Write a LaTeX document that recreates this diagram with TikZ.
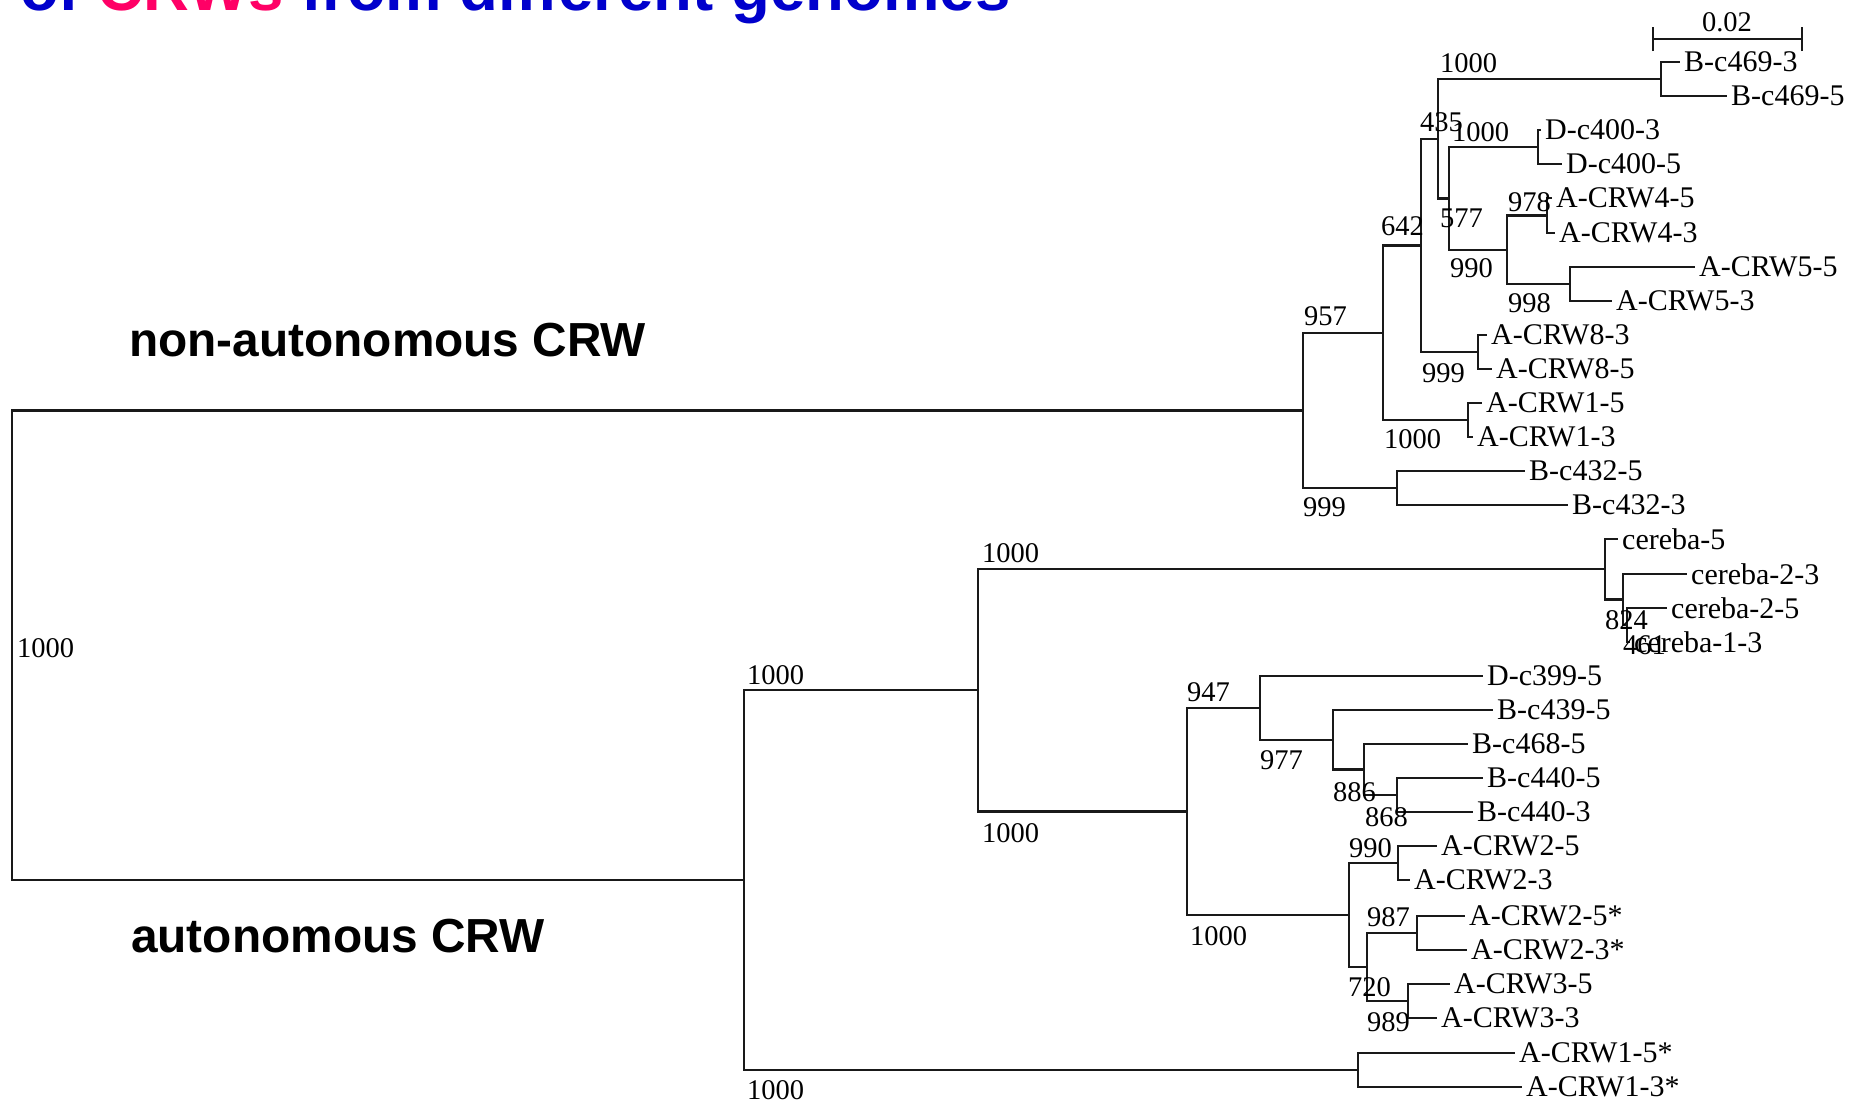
\documentclass[tikz,border=0pt]{standalone}
\usepackage{fontspec}
\setmainfont{Liberation Serif}
\newfontfamily\headfont{Liberation Sans}
\definecolor{titleblue}{RGB}{0,0,204}
\definecolor{titlepink}{RGB}{255,0,102}
\begin{document}
\begin{tikzpicture}[x=1pt,y=-1pt,
  br/.style={line width=2.2pt, draw=black!90, line join=miter},
  leaf/.style={font=\fontsize{30}{34}\selectfont, inner xsep=4pt, inner ysep=0pt, anchor=west},
  lbl/.style={font=\fontsize{28.5}{34}\selectfont, inner sep=0pt, anchor=west},
  head/.style={font=\headfont\bfseries\fontsize{47.8}{56}\selectfont, inner sep=0pt, anchor=west},
]
\useasboundingbox (0,0) rectangle (1867,1104);
\fill[white] (0,0) rectangle (1867,1104);
\clip (0,0) rectangle (1867,1104);

% title (cut off at top)
\node[font=\headfont\bfseries\fontsize{63.5}{70}\selectfont, inner sep=0pt, anchor=base west] (title) at (20,10)
  {\textcolor{titleblue}{of} \textcolor{titlepink}{CRWs} \textcolor{titleblue}{from different genomes}};

% headings
\node[head] (hnon) at (129,340) {non-autonomous CRW};
\node[head] (haut) at (131,936) {autonomous CRW};

% scale bar
\coordinate (sbL) at (1653,39);
\coordinate (sbR) at (1802,39);
\draw[br] (sbL) -- (sbR);
\draw[br] ([yshift=-12pt]sbL) -- ([yshift=12pt]sbL);
\draw[br] ([yshift=-12pt]sbR) -- ([yshift=12pt]sbR);
\node[lbl, anchor=center] (sblab) at (1727,22) {0.02};

% ---------- internal node coordinates ----------
\coordinate (root) at (12,645.25);
\coordinate (n957) at (1303,410.5);
\coordinate (n642) at (1383,333);
\coordinate (n1421) at (1421,245.5);
\coordinate (nX) at (1438,139);
\coordinate (n469) at (1661,79);
\coordinate (nY) at (1449,198.5);
\coordinate (n400) at (1538,147);
\coordinate (n990t) at (1507,250);
\coordinate (nCRW4) at (1547,215.5);
\coordinate (nCRW5) at (1570,284);
\coordinate (nCRW8) at (1478,352);
\coordinate (nCRW1) at (1468,420);
\coordinate (n432) at (1397,488);

\coordinate (n744) at (744,880);
\coordinate (n978) at (978,690);
\coordinate (nCer) at (1605,569);
\coordinate (n824) at (1623,599.5);
\coordinate (n461) at (1627,625);
\coordinate (n1187) at (1187,811.5);
\coordinate (n1260) at (1260,708);
\coordinate (n1333) at (1333,740);
\coordinate (n1364) at (1364,769.5);
\coordinate (n440) at (1397,795);
\coordinate (n1349) at (1349,915);
\coordinate (nCRW2) at (1398,863);
\coordinate (n720) at (1367,967);
\coordinate (nCRW2s) at (1417,933);
\coordinate (nCRW3) at (1408,1001);
\coordinate (nCRW1s) at (1358,1070);

% ---------- leaves ----------
\node[leaf] (l0) at (1680,62) {B-c469-3};
\node[leaf] (l1) at (1727,96) {B-c469-5};
\node[leaf] (l2) at (1541,130) {D-c400-3};
\node[leaf] (l3) at (1562,164) {D-c400-5};
\node[leaf] (l4) at (1552,198) {A-CRW4-5};
\node[leaf] (l5) at (1555,233) {A-CRW4-3};
\node[leaf] (l6) at (1695,267) {A-CRW5-5};
\node[leaf] (l7) at (1612,301) {A-CRW5-3};
\node[leaf] (l8) at (1487,335) {A-CRW8-3};
\node[leaf] (l9) at (1492,369) {A-CRW8-5};
\node[leaf] (l10) at (1482,403) {A-CRW1-5};
\node[leaf] (l11) at (1473,437) {A-CRW1-3};
\node[leaf] (l12) at (1525,471) {B-c432-5};
\node[leaf] (l13) at (1568,505) {B-c432-3};
\node[leaf] (l14) at (1618,539) {cereba-5};
\node[leaf] (l15) at (1687,574) {cereba-2-3};
\node[leaf] (l16) at (1667,608) {cereba-2-5};
\node[leaf] (l17) at (1630,642) {cereba-1-3};
\node[leaf] (l18) at (1483,676) {D-c399-5};
\node[leaf] (l19) at (1493,710) {B-c439-5};
\node[leaf] (l20) at (1468,744) {B-c468-5};
\node[leaf] (l21) at (1483,778) {B-c440-5};
\node[leaf] (l22) at (1473,812) {B-c440-3};
\node[leaf] (l23) at (1437,846) {A-CRW2-5};
\node[leaf] (l24) at (1410,880) {A-CRW2-3};
\node[leaf] (l25) at (1465,916) {A-CRW2-5*};
\node[leaf] (l26) at (1467,950) {A-CRW2-3*};
\node[leaf] (l27) at (1450,984) {A-CRW3-5};
\node[leaf] (l28) at (1437,1018) {A-CRW3-3};
\node[leaf] (l29) at (1515,1053) {A-CRW1-5*};
\node[leaf] (l30) at (1522,1087) {A-CRW1-3*};

% ---------- branches ----------
\draw[br] (root) |- (n957);
\draw[br] (root) |- (n744);
% non-autonomous clade
\draw[br] (n957) |- (n642);
\draw[br] (n957) |- (n432);
\draw[br] (n642) |- (n1421);
\draw[br] (n642) |- (nCRW1);
\draw[br] (n1421) |- (nX);
\draw[br] (n1421) |- (nCRW8);
\draw[br] (nX) |- (n469);
\draw[br] (nX) |- (nY);
\draw[br] (nY) |- (n400);
\draw[br] (nY) |- (n990t);
\draw[br] (n990t) |- (nCRW4);
\draw[br] (n990t) |- (nCRW5);
\draw[br] (n469) |- (l0.west);
\draw[br] (n469) |- (l1.west);
\draw[br] (n400) |- (l2.west);
\draw[br] (n400) |- (l3.west);
\draw[br] (nCRW4) |- (l4.west);
\draw[br] (nCRW4) |- (l5.west);
\draw[br] (nCRW5) |- (l6.west);
\draw[br] (nCRW5) |- (l7.west);
\draw[br] (nCRW8) |- (l8.west);
\draw[br] (nCRW8) |- (l9.west);
\draw[br] (nCRW1) |- (l10.west);
\draw[br] (nCRW1) |- (l11.west);
\draw[br] (n432) |- (l12.west);
\draw[br] (n432) |- (l13.west);
% autonomous clade
\draw[br] (n744) |- (n978);
\draw[br] (n744) |- (nCRW1s);
\draw[br] (n978) |- (nCer);
\draw[br] (n978) |- (n1187);
\draw[br] (nCer) |- (l14.west);
\draw[br] (nCer) |- (n824);
\draw[br] (n824) |- (l15.west);
\draw[br] (n824) |- (n461);
\draw[br] (n461) |- (l16.west);
\draw[br] (n461) |- (l17.west);
\draw[br] (n1187) |- (n1260);
\draw[br] (n1187) |- (n1349);
\draw[br] (n1260) |- (l18.west);
\draw[br] (n1260) |- (n1333);
\draw[br] (n1333) |- (l19.west);
\draw[br] (n1333) |- (n1364);
\draw[br] (n1364) |- (l20.west);
\draw[br] (n1364) |- (n440);
\draw[br] (n440) |- (l21.west);
\draw[br] (n440) |- (l22.west);
\draw[br] (n1349) |- (nCRW2);
\draw[br] (n1349) |- (n720);
\draw[br] (nCRW2) |- (l23.west);
\draw[br] (nCRW2) |- (l24.west);
\draw[br] (n720) |- (nCRW2s);
\draw[br] (n720) |- (nCRW3);
\draw[br] (nCRW2s) |- (l25.west);
\draw[br] (nCRW2s) |- (l26.west);
\draw[br] (nCRW3) |- (l27.west);
\draw[br] (nCRW3) |- (l28.west);
\draw[br] (nCRW1s) |- (l29.west);
\draw[br] (nCRW1s) |- (l30.west);

% ---------- bootstrap labels ----------
\node[lbl] (b1) at (1440,63) {1000};
\node[lbl] (b2) at (1420,122) {435};
\node[lbl] (b3) at (1452,132) {1000};
\node[lbl] (b4) at (1440,218) {577};
\node[lbl] (b5) at (1508,202) {978};
\node[lbl] (b6) at (1381,226) {642};
\node[lbl] (b7) at (1450,268) {990};
\node[lbl] (b8) at (1508,303) {998};
\node[lbl] (b9) at (1304,316) {957};
\node[lbl] (b10) at (1422,373) {999};
\node[lbl] (b11) at (1384,439) {1000};
\node[lbl] (b12) at (1303,507) {999};
\node[lbl] (b13) at (17,648) {1000};
\node[lbl] (b14) at (747,675) {1000};
\node[lbl] (b15) at (982,553) {1000};
\node[lbl] (b16) at (982,833) {1000};
\node[lbl] (b17) at (1605,620) {824};
\node[lbl] (b18) at (1623,645) {461};
\node[lbl] (b19) at (1187,692) {947};
\node[lbl] (b20) at (1260,760) {977};
\node[lbl] (b21) at (1333,792) {886};
\node[lbl] (b22) at (1365,817) {868};
\node[lbl] (b23) at (1190,936) {1000};
\node[lbl] (b24) at (1349,848) {990};
\node[lbl] (b25) at (1367,917) {987};
\node[lbl] (b26) at (1348,987) {720};
\node[lbl] (b27) at (1367,1022) {989};
\node[lbl] (b28) at (747,1090) {1000};
\end{tikzpicture}
\end{document}
